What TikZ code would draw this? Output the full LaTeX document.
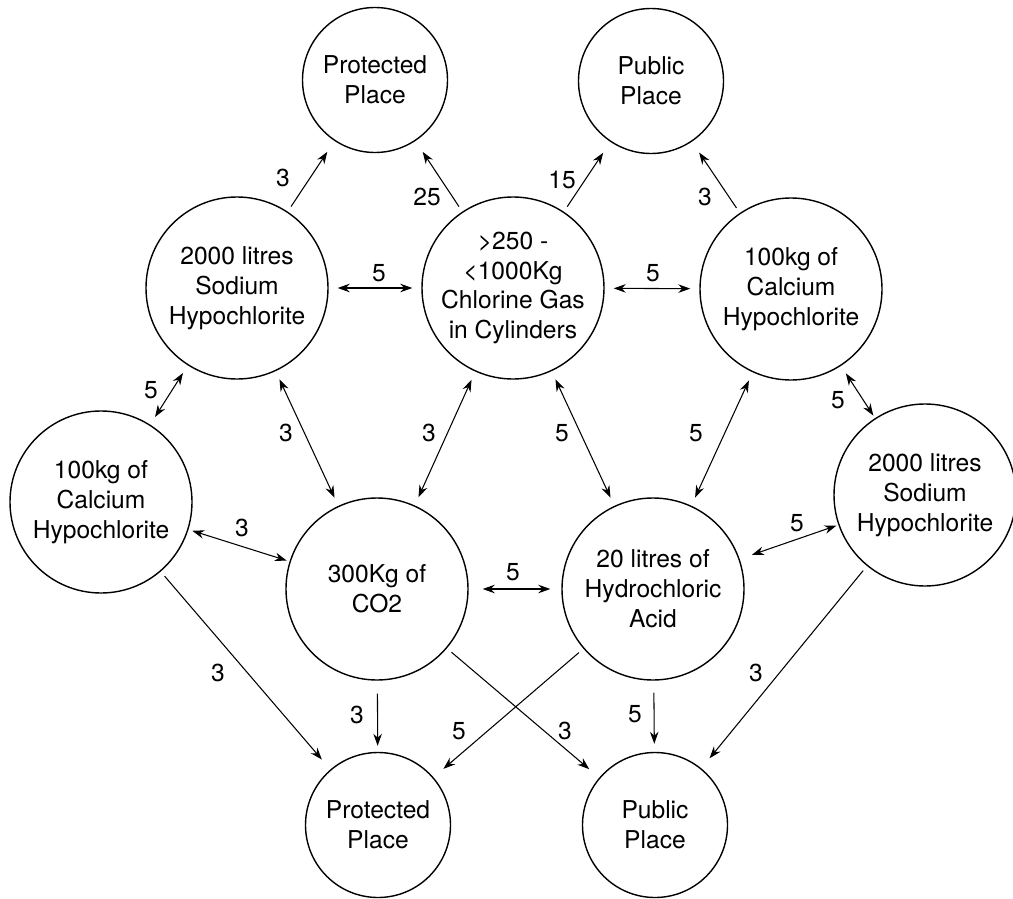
\documentclass[tikz,border=0pt]{standalone}
\usepackage{fontspec}
\setmainfont{TeX Gyre Heros}
\usepackage{tikz}
\usetikzlibrary{positioning, calc, arrows.meta}

\begin{document}
\begin{tikzpicture}[x=0.2mm, y=-0.2mm,
    place/.style={draw, circle, line width=0.8pt, minimum size=29mm, inner sep=0pt, align=center, font=\fontsize{14}{17}\selectfont},
    store/.style={place, minimum size=36.4mm},
    num/.style={inner sep=0pt, font=\fontsize{14}{17}\selectfont},
    oneway/.style={line width=0.6pt, -{Stealth[length=2.4mm, width=1.7mm]}, shorten <=1.2mm, shorten >=2.6mm},
    twoway/.style={line width=0.6pt, {Stealth[length=2.4mm, width=1.7mm]}-{Stealth[length=2.4mm, width=1.7mm]}, shorten <=1.8mm, shorten >=1.8mm}]

    % --- PAGE SIZE ---
    \useasboundingbox (0,0) rectangle (1013,899);

    % --- TOP ROW: RECEPTORS ---
    \node[place] (protT) at (375,80) {Protected\\Place};
    \node[place] (pubT) at (651,81) {Public\\Place};

    % --- SECOND ROW: STORES ---
    \node[store] (sodL) at (237,288) {2000 litres\\Sodium\\Hypochlorite};
    \node[store] (chlor) at (513,288) {>250 -\\<1000Kg\\Chlorine Gas\\in Cylinders};
    \node[store] (calR) at (791,289) {100kg of\\Calcium\\Hypochlorite};

    % --- THIRD ROW: STORES ---
    \node[store] (calL) at (101,502) {100kg of\\Calcium\\Hypochlorite};
    \node[store] (co2) at (377,589) {300Kg of\\CO2};
    \node[store] (hcl) at (653,589) {20 litres of\\Hydrochloric\\Acid};
    \node[store] (sodR) at (925,495) {2000 litres\\Sodium\\Hypochlorite};

    % --- BOTTOM ROW: RECEPTORS ---
    \node[place] (protB) at (378,825) {Protected\\Place};
    \node[place] (pubB) at (655,825) {Public\\Place};

    % --- ARROWS UP TO THE TOP RECEPTORS ---
    \draw[oneway] (sodL) -- (protT);
    \draw[oneway] (chlor) -- (protT);
    \draw[oneway] (chlor) -- (pubT);
    \draw[oneway] (calR) -- (pubT);

    % --- LINKS BETWEEN STORES ---
    \draw[twoway] (sodL) -- (chlor);
    \draw[twoway] (chlor) -- (calR);
    \draw[twoway] (sodL) -- (calL);
    \draw[twoway] (sodL) -- (co2);
    \draw[twoway] (chlor) -- (co2);
    \draw[twoway] (chlor) -- (hcl);
    \draw[twoway] (calR) -- (hcl);
    \draw[twoway, shorten >=0.6mm] (calR) -- (sodR);
    \draw[twoway, shorten <=0.8mm, shorten >=0.6mm] (calL) -- (co2);
    \draw[twoway, shorten <=2.8mm, shorten >=2.2mm] (co2) -- (hcl);
    \draw[twoway, shorten <=2.6mm, shorten >=0.4mm] (hcl) -- (sodR);

    % --- ARROWS DOWN TO THE BOTTOM RECEPTORS ---
    \draw[oneway] (calL) -- (protB);
    \draw[oneway, shorten <=2.6mm, shorten >=1.2mm] (co2) -- (protB);
    \draw[oneway] (hcl) -- (protB);
    \draw[oneway] (co2) -- (pubB);
    \draw[oneway, shorten <=2.4mm, shorten >=1.6mm] (hcl) -- (pubB);
    \draw[oneway] (sodR) -- (pubB);

    % --- NUMBERS ON THE ARROWS ---
    \node[num] (n1) at (283,178) {3};
    \node[num] (n2) at (427,197) {25};
    \node[num] (n3) at (562,180) {15};
    \node[num] (n4) at (705,197) {3};
    \node[num] (n5) at (379,273) {5};
    \node[num] (n6) at (653,273) {5};
    \node[num] (n7) at (151,390) {5};
    \node[num] (n8) at (286,433) {3};
    \node[num] (n9) at (429,433) {3};
    \node[num] (n10) at (562,433) {5};
    \node[num] (n11) at (696,433) {5};
    \node[num] (n12) at (838,400) {5};
    \node[num] (n13) at (242,528) {3};
    \node[num] (n14) at (513,572) {5};
    \node[num] (n15) at (797,523) {5};
    \node[num] (n16) at (218,673) {3};
    \node[num] (n17) at (357,715) {3};
    \node[num] (n18) at (459,731) {5};
    \node[num] (n19) at (565,731) {3};
    \node[num] (n20) at (635,714) {5};
    \node[num] (n21) at (756,673) {3};

\end{tikzpicture}
\end{document}
